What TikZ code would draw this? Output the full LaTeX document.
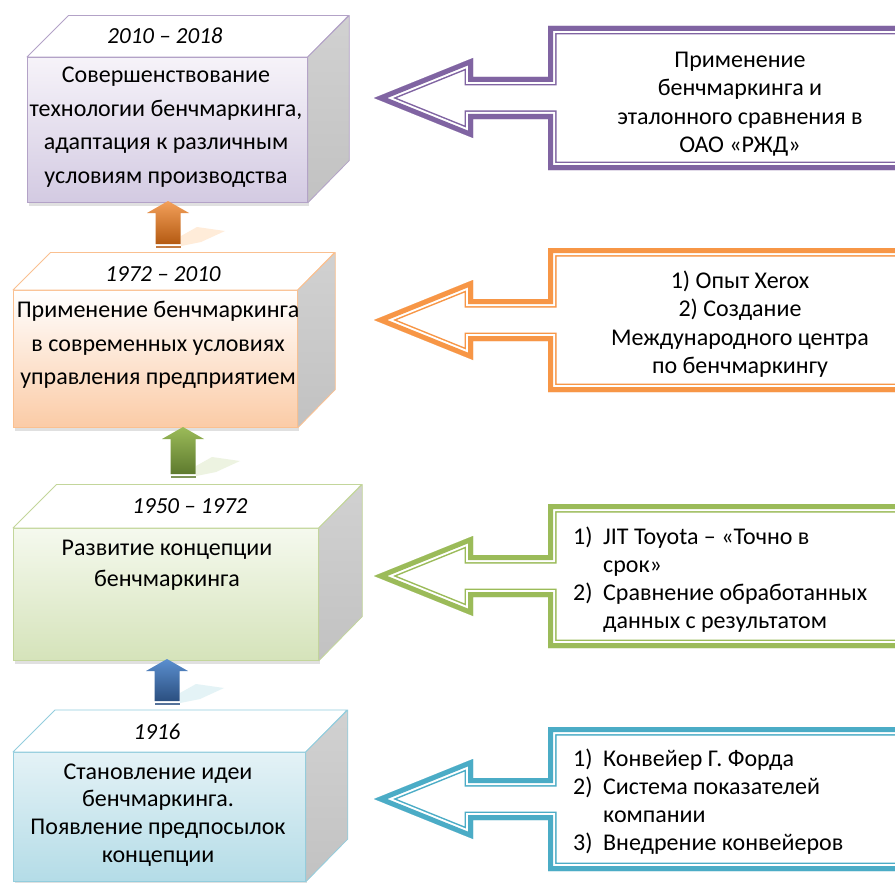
\documentclass[tikz,border=0pt]{standalone}
\usepackage{fontspec}
\setmainfont{Carlito}
\usetikzlibrary{calc}
\definecolor{cpur}{HTML}{8064A2}
\definecolor{cora}{HTML}{F79646}
\definecolor{cgre}{HTML}{9BBB59}
\definecolor{cblu}{HTML}{4BACC6}
\definecolor{bpur}{HTML}{B3A2C7}
\definecolor{bora}{HTML}{FAC090}
\definecolor{bgre}{HTML}{C3D69B}
\definecolor{bblu}{HTML}{93CDDD}
\definecolor{fpur}{HTML}{D3CAE2}
\definecolor{fora}{HTML}{FBCBA6}
\definecolor{fgre}{HTML}{D5E3BA}
\definecolor{fblu}{HTML}{B4DCE7}
\definecolor{tblu}{HTML}{E4F2F6}
\definecolor{tpur}{HTML}{F6F3F9}
\definecolor{tgre}{HTML}{F5F9EE}
\definecolor{aorat}{HTML}{F3A05A}
\definecolor{aorab}{HTML}{B45A12}
\definecolor{agret}{HTML}{9BBB59}
\definecolor{agreb}{HTML}{5E7A2E}
\definecolor{ablut}{HTML}{5B8FCF}
\definecolor{ablub}{HTML}{2B4F80}
\tikzset{
  yrtext/.style={font=\itshape\fontsize{23}{27}\selectfont, inner sep=0pt},
  boxtext/.style={font=\fontsize{24}{33.5}\selectfont, align=center, inner sep=0pt},
  calltext/.style={font=\fontsize{24}{28.5}\selectfont, align=center, inner sep=0pt},
  listtext/.style={font=\fontsize{24}{28}\selectfont, align=left, inner sep=0pt, anchor=west},
}
% cube: name, x, y, w, h, depth, border, top colour, bottom colour
\newcommand\cube[9]{%
  \fill[black!12] (#2+2,#3+4) rectangle ++(#4,#5);
  \node[draw=#7, line width=0.8pt, top color=#8, bottom color=#9,
        minimum width=#4, minimum height=#5, anchor=north west, inner sep=0pt] (#1) at (#2,#3) {};
  \draw[#7, fill=white, line width=0.8pt, line join=round] (#1.north west) -- ++(#6,-#6) -- ++(#4,0) -- (#1.north east) -- cycle;
  \draw[#7, top color=black!18, bottom color=black!24, line width=0.8pt, line join=round] (#1.north east) -- ++(#6,-#6) -- ++(0,#5) -- (#1.south east) -- cycle;
}
% callout: name, colour, centre y
\newcommand\callout[3]{%
  \coordinate (#1) at (374,#3);
  \def\cpth{(374,#3) -- (473,#3-40) -- (473,#3-21) -- (548,#3-21) -- (548,#3-72) -- (915,#3-72) -- (915,#3+72) -- (548,#3+72) -- (548,#3+21) -- (473,#3+21) -- (473,#3+40) -- cycle}%
  \begin{scope}
    \clip \cpth;
    \fill[white] \cpth;
    \draw[#2, line width=17pt, line join=miter, miter limit=20] \cpth;
    \draw[white, line width=14pt, line join=miter, miter limit=20] \cpth;
    \draw[#2, line width=10pt, line join=miter, miter limit=20] \cpth;
  \end{scope}
}
% up arrow: centre x, tip y, shaft bottom y, top colour, bottom colour, shadow colour
\newcommand\uparr[6]{%
  \fill[#6] (#1+13,#3+2) -- (#1+13,#3-8) -- (#1+29,#3-17) -- (#1+57,#3-13) -- (#1+33,#3-2) -- cycle;
  \path[top color=#4, bottom color=#5] (#1,#2) -- (#1+21,#2+12) -- (#1+12.5,#2+12) -- (#1+12.5,#3) -- (#1-12.5,#3) -- (#1-12.5,#2+12) -- (#1-21,#2+12) -- cycle;
  \fill[#5!80] (#1-12.5,#3+2) rectangle (#1+12.5,#3+4);
}
\begin{document}
\begin{tikzpicture}[x=1pt,y=-1pt]
\useasboundingbox (0,0) rectangle (895,883);
\fill[white] (0,0) rectangle (895,883);

% cubes
\cube{b1}{27}{57}{280}{145}{41.5}{bpur}{tpur}{fpur}
\cube{b2}{13}{290}{284}{137}{37.5}{bora}{white}{fora}
\cube{b3}{13}{528}{305}{132}{43.5}{bgre}{tgre}{fgre}
\cube{b4}{13}{752}{292}{129}{42}{bblu}{tblu}{fblu}

% up arrows
\uparr{168}{201}{244}{aorat}{aorab}{orange!15}
\uparr{183}{427}{474}{agret}{agreb}{cgre!18}
\uparr{167}{659}{701}{ablut}{ablub}{cblu!15}

% callouts
\callout{c1}{cpur}{98}
\callout{c2}{cora}{320}
\callout{c3}{cgre}{576}
\callout{c4}{cblu}{799}

% year labels
\node[yrtext] (y1) at (165,36) {2010 – 2018};
\node[yrtext] (y2) at (163,274) {1972 – 2010};
\node[yrtext] (y3) at (190,506) {1950 – 1972};
\node[yrtext] (y4) at (157,732) {1916};

% box texts
\node[boxtext] (t1) at (166,127) {Совершенствование\\технологии бенчмаркинга,\\адаптация к различным\\условиям производства};
\node[boxtext] (t2) at (158,345) {Применение бенчмаркинга\\в современных условиях\\управления предприятием};
\node[boxtext, font=\fontsize{24}{31.5}\selectfont] (t3) at (167,565) {Развитие концепции\\бенчмаркинга};
\node[boxtext, font=\fontsize{24}{27.8}\selectfont] (t4) at (158,815) {Становление идеи\\бенчмаркинга.\\Появление предпосылок\\концепции};

% callout texts
\node[calltext] (k1) at (740,104) {Применение\\бенчмаркинга и\\эталонного сравнения в\\ОАО «РЖД»};
\node[calltext] (k2) at (740,324) {1) Опыт Xerox\\2) Создание\\Международного центра\\по бенчмаркингу};
\node[listtext] (k3) at (573,580) {\makebox[30pt][l]{1)}JIT Toyota – «Точно в\\\hspace*{30pt}срок»\\\makebox[30pt][l]{2)}Сравнение обработанных\\\hspace*{30pt}данных с результатом};
\node[listtext] (k4) at (573,802) {\makebox[30pt][l]{1)}Конвейер Г. Форда\\\makebox[30pt][l]{2)}Система показателей\\\hspace*{30pt}компании\\\makebox[30pt][l]{3)}Внедрение конвейеров};
\end{tikzpicture}
\end{document}
